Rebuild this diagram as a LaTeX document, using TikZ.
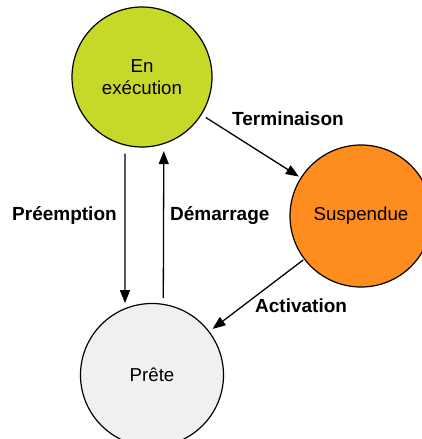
\documentclass[tikz,border=0pt]{standalone}
\usepackage{fontspec}
\setmainfont{Liberation Sans}
\usetikzlibrary{arrows.meta}
\definecolor{cgreen}{RGB}{198,217,40}
\definecolor{corange}{RGB}{255,140,30}
\definecolor{cgrey}{RGB}{240,240,240}
\begin{document}
\begin{tikzpicture}[x=1pt,y=-1pt,
  state/.style={circle,draw=black,line width=1.2pt,inner sep=0pt,minimum size=140pt,align=center,font=\fontsize{18.7}{22}\selectfont},
  arr/.style={line width=1.3pt,-{Triangle[length=13pt,width=10pt]}},
  lab/.style={font=\fontsize{19}{22}\selectfont\bfseries,anchor=west,inner sep=0pt}]
\useasboundingbox (0,0) rectangle (422,439);
\node[state,fill=cgreen] (ex) at (142,77) {En\\exécution};
\node[state,fill=corange,minimum size=142pt] (su) at (361,216) {Suspendue};
\node[state,fill=cgrey,minimum size=143pt] (pr) at (152,375) {Prête};
\draw[arr,shorten <=8pt,shorten >=5pt] (ex.-104) -- (pr.112.2);
\draw[arr,shorten <=6pt,shorten >=7pt] (pr.81.2) -- (ex.-72.5);
\draw[arr,shorten <=5pt,shorten >=2pt] (ex) -- (su);
\draw[arr,shorten <=1pt,shorten >=4pt] (su) -- (pr);
\node[lab] (lt) at (232,119) {Terminaison};
\node[lab] (la) at (255,306) {Activation};
\node[lab] (lp) at (12,216) {Préemption};
\node[lab] (ld) at (170,216) {Démarrage};
\end{tikzpicture}
\end{document}
